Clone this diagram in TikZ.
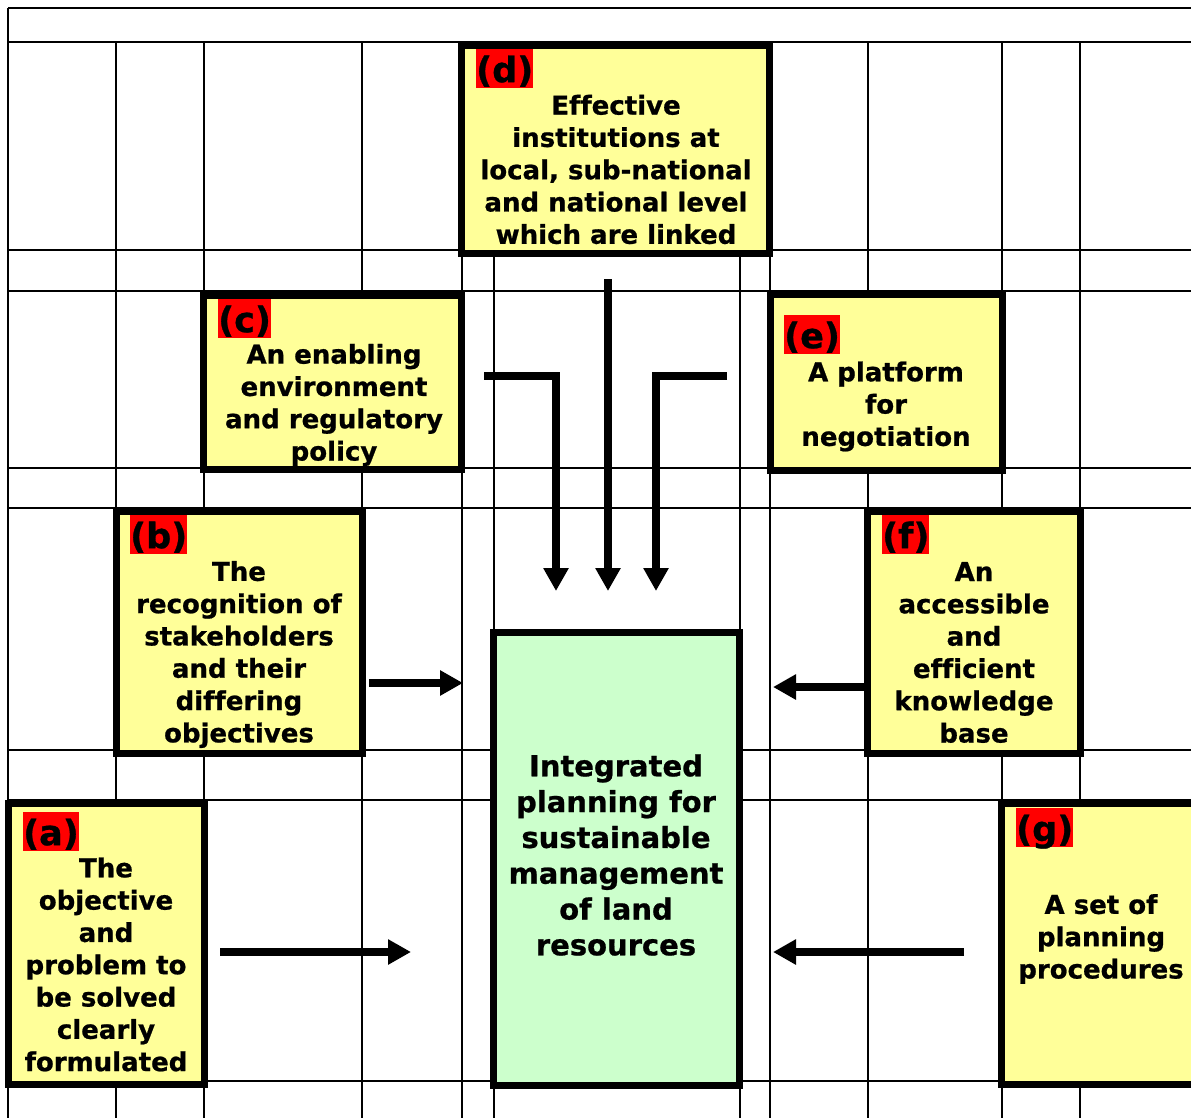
\documentclass[tikz,border=0pt]{standalone}
\usepackage{fontspec}
\setmainfont{DejaVu Sans}[Ligatures={NoCommon}, BoldFeatures={FakeBold=0.8}]
\usetikzlibrary{arrows.meta}
\definecolor{boxyellow}{RGB}{255,255,153}
\definecolor{boxgreen}{RGB}{204,255,204}
\definecolor{labred}{RGB}{255,0,0}
\begin{document}
\begin{tikzpicture}[x=1pt,y=-1pt,
  gridline/.style={line width=1.6pt},
  box/.style={draw, line width=7pt, fill=boxyellow, inner sep=0pt},
  hub/.style={box, fill=boxgreen},
  txt/.style={font=\fontsize{26}{32.3}\selectfont\bfseries, align=center, inner sep=0pt},
  hubtxt/.style={font=\fontsize{29}{35.8}\selectfont\bfseries, align=center, inner sep=0pt},
  lab/.style={fill=labred, inner xsep=0pt, inner ysep=0pt, text height=33pt, text depth=6pt,
    font=\fontsize{35}{35}\selectfont\bfseries, anchor=north west},
  arr/.style={line width=7.5pt, -{Triangle[length=23pt,width=24pt]}}
]
\clip (0,0) rectangle (1191,1118);
\fill[white] (0,0) rectangle (1191,1118);
% table grid
\foreach \y in {8,42,250,291,468,508,750,800,1081} \draw[gridline] (8,\y) -- (1191,\y);
\draw[gridline] (8,8) -- (8,1118);
\foreach \x in {116,204,362,868,1002,1080} \draw[gridline] (\x,42) -- (\x,1118);
\foreach \x in {462,494,740,770} \draw[gridline] (\x,250) -- (\x,1118);
% boxes
\node[box, minimum width=308pt, minimum height=208pt] (d) at (615.5,149.5) {};
\node[box, minimum width=258pt, minimum height=174pt] (c) at (332.5,382.5) {};
\node[box, minimum width=232pt, minimum height=176pt] (e) at (886.5,382.5) {};
\node[box, minimum width=246pt, minimum height=242pt] (b) at (239.5,632.5) {};
\node[box, minimum width=213pt, minimum height=242pt] (f) at (974,632.5) {};
\node[box, minimum width=196pt, minimum height=281pt] (a) at (106.5,944) {};
\node[box, minimum width=214pt, minimum height=281pt] (g) at (1108.5,944) {};
\node[hub, minimum width=246pt, minimum height=453pt] (hub) at (616.5,859) {};
% labels
\node[lab] (dl) at (476,49) {(d)};
\node[lab] (cl) at (218,299) {(c)};
\node[lab] (el) at (784,315) {(e)};
\node[lab] (bl) at (130,515) {(b)};
\node[lab] (fl) at (882,515) {(f)};
\node[lab] (al) at (23,812) {(a)};
\node[lab] (gl) at (1016,808) {(g)};
% texts
\node[txt] (dt) at (616,169.5) {Effective\\institutions at\\local, sub-national\\and national level\\which are linked};
\node[txt] (ct) at (334,405) {An enabling\\environment\\and regulatory\\policy};
\node[txt] (et) at (886,406.5) {A platform\\for\\negotiation};
\node[txt] (bt) at (239,654.5) {The\\recognition of\\stakeholders\\and their\\differing\\objectives};
\node[txt] (ft) at (974,652.5) {An\\accessible\\and\\efficient\\knowledge\\base};
\node[txt] (at) at (106,964.5) {The\\objective\\and\\problem to\\be solved\\clearly\\formulated};
\node[txt] (gt) at (1101,939) {A set of\\planning\\procedures};
\node[hubtxt] (hubt) at (616,855) {Integrated\\planning for\\sustainable\\management\\of land\\resources};
% arrows
\coordinate (aS) at (220,952); \coordinate (aE) at (411,952);
\coordinate (bS) at (369,683); \coordinate (bE) at (463,683);
\coordinate (cS) at (484,376); \coordinate (cE) at (556,591);
\coordinate (dS) at (608,279); \coordinate (dE) at (608,591);
\coordinate (eS) at (727,376); \coordinate (eE) at (656,591);
\coordinate (fS) at (864,687); \coordinate (fE) at (773,687);
\coordinate (gS) at (964,952); \coordinate (gE) at (773,952);
\draw[arr] (aS) -- (aE);
\draw[arr] (bS) -- (bE);
\draw[arr] (cS) -| (cE);
\draw[arr] (dS) -- (dE);
\draw[arr] (eS) -| (eE);
\draw[arr] (fS) -- (fE);
\draw[arr] (gS) -- (gE);
\end{tikzpicture}
\end{document}
